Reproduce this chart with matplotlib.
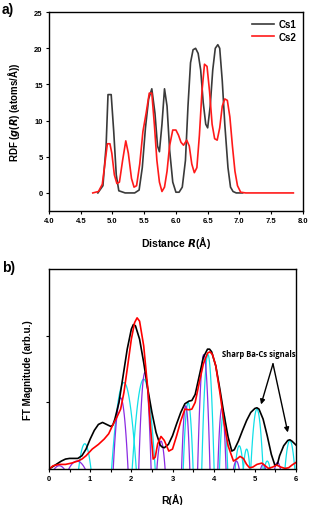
import numpy as np
import matplotlib
matplotlib.use("Agg")
import matplotlib.pyplot as plt
from matplotlib.ticker import MultipleLocator

plt.rcParams['font.family'] = ['Liberation Sans', 'DejaVu Sans']
plt.rcParams['font.weight'] = 'bold'

# ---- panel a: RDF of the two Cs sites ----
cs1_r = [4.77, 4.85, 4.9, 4.93, 4.98, 5.02, 5.06, 5.1, 5.2, 5.35, 5.42, 5.47, 5.52, 5.57, 5.62, 5.67,
         5.71, 5.74, 5.78, 5.82, 5.86, 5.9, 5.95, 6.0, 6.05, 6.1, 6.15, 6.19, 6.23, 6.27, 6.31, 6.35,
         6.39, 6.43, 6.47, 6.5, 6.54, 6.58, 6.62, 6.66, 6.69, 6.73, 6.77, 6.82, 6.86, 6.9, 6.95, 7.05]
cs1_g = [0.0, 1.0, 6.5, 13.6, 13.6, 8.5, 2.5, 0.3, 0.0, 0.0, 0.4, 3.5, 9.0, 13.0, 14.4, 11.0,
         6.5, 5.7, 9.5, 14.4, 12.0, 6.0, 1.5, 0.1, 0.1, 0.8, 4.5, 12.0, 18.0, 19.8, 20.0, 19.3,
         17.0, 12.5, 9.5, 9.0, 12.0, 17.0, 20.0, 20.5, 20.0, 15.5, 9.5, 3.5, 0.8, 0.2, 0.0, 0.0]

cs2_r = [4.69, 4.78, 4.84, 4.88, 4.92, 4.96, 4.99, 5.03, 5.07, 5.11, 5.16, 5.21, 5.25, 5.3, 5.34, 5.38,
         5.43, 5.48, 5.53, 5.58, 5.62, 5.66, 5.7, 5.74, 5.78, 5.82, 5.86, 5.9, 5.95, 6.0, 6.04, 6.08,
         6.12, 6.17, 6.21, 6.25, 6.29, 6.33, 6.37, 6.41, 6.45, 6.49, 6.53, 6.57, 6.61, 6.65, 6.69, 6.73,
         6.77, 6.81, 6.85, 6.89, 6.93, 6.97, 7.02, 7.1, 7.85]
cs2_g = [0.0, 0.2, 1.2, 4.0, 6.8, 6.8, 5.5, 2.5, 1.3, 1.5, 4.5, 7.2, 5.5, 2.0, 0.8, 1.0,
         4.0, 8.5, 11.0, 13.8, 13.8, 9.5, 4.5, 1.5, 0.2, 0.8, 3.0, 6.5, 8.7, 8.7, 8.0, 7.0,
         6.6, 7.3, 6.5, 4.0, 2.8, 3.5, 8.0, 14.0, 17.8, 17.5, 14.0, 9.5, 7.5, 7.3, 9.0, 12.0,
         13.0, 12.8, 10.5, 6.5, 3.0, 1.0, 0.1, 0.0, 0.0]

# ---- panel b: FT magnitude ----
ft_r = [0.0, 0.1, 0.2, 0.3, 0.4, 0.5, 0.6, 0.7, 0.8, 0.9, 1.0, 1.1, 1.2, 1.3, 1.4, 1.5, 1.55,
        1.6, 1.7, 1.8, 1.9, 2.0, 2.05, 2.1, 2.2, 2.3, 2.4, 2.5, 2.6, 2.7, 2.75, 2.8, 2.9, 3.0,
        3.1, 3.2, 3.3, 3.4, 3.47, 3.55, 3.65, 3.75, 3.85, 3.9, 3.95, 4.05, 4.15, 4.25, 4.35, 4.44,
        4.5, 4.6, 4.7, 4.8, 4.9, 5.0, 5.05, 5.1, 5.2, 5.3, 5.4, 5.49, 5.55, 5.6, 5.7, 5.8, 5.85,
        5.9, 6.0]
ft_black = [0.0, 0.04, 0.08, 0.12, 0.15, 0.16, 0.16, 0.16, 0.2, 0.3, 0.45, 0.58, 0.67, 0.70, 0.67, 0.64, 0.66,
            0.75, 1.0, 1.4, 1.8, 2.1, 2.17, 2.15, 1.95, 1.6, 1.2, 0.85, 0.55, 0.36, 0.33, 0.32, 0.37, 0.5,
            0.68, 0.85, 0.98, 1.02, 1.03, 1.12, 1.4, 1.68, 1.8, 1.8, 1.76, 1.55, 1.2, 0.82, 0.48, 0.27,
            0.29, 0.42, 0.58, 0.73, 0.85, 0.91, 0.92, 0.9, 0.75, 0.5, 0.22, 0.05, 0.08, 0.2, 0.35, 0.43, 0.44,
            0.42, 0.36]

ft_r2 = [0.0, 0.1, 0.25, 0.4, 0.55, 0.7, 0.8, 0.9, 1.05, 1.2, 1.34, 1.45, 1.54, 1.65, 1.74, 1.82,
         1.9, 2.0, 2.08, 2.14, 2.2, 2.3, 2.4, 2.47, 2.53, 2.58, 2.64, 2.72, 2.8, 2.91, 3.0, 3.1,
         3.2, 3.3, 3.4, 3.47, 3.55, 3.65, 3.75, 3.85, 3.91, 3.97, 4.05, 4.15, 4.25, 4.35, 4.48,
         4.56, 4.64, 4.72, 4.8, 4.87, 4.95, 5.05, 5.17, 5.25, 5.33, 5.43, 5.53, 5.63, 5.73, 5.82,
         5.9, 6.0]
ft_red = [0.0, 0.05, 0.07, 0.07, 0.09, 0.12, 0.15, 0.2, 0.3, 0.37, 0.45, 0.53, 0.65, 0.78, 0.9, 1.15,
          1.5, 1.95, 2.2, 2.27, 2.22, 1.85, 1.2, 0.6, 0.15, 0.18, 0.38, 0.49, 0.43, 0.27, 0.3, 0.5,
          0.72, 0.9, 0.89, 0.9, 1.0, 1.3, 1.58, 1.74, 1.76, 1.72, 1.55, 1.15, 0.7, 0.35, 0.12,
          0.15, 0.19, 0.16, 0.07, 0.02, 0.03, 0.07, 0.09, 0.05, 0.01, 0.03, 0.06, 0.03, 0.01, 0.02,
          0.06, 0.1]

# fitted single-shell components: centre, height, half-width
cyan_c = [0.87, 1.82, 2.30, 3.38, 3.86, 4.24, 4.62, 4.80, 5.05, 5.30, 5.85]
cyan_h = [0.38, 1.30, 1.35, 1.00, 1.72, 0.85, 0.35, 0.30, 0.90, 0.12, 0.43]
cyan_w = [0.15, 0.30, 0.28, 0.12, 0.15, 0.10, 0.10, 0.08, 0.15, 0.07, 0.12]

purple_c = [0.25, 0.68, 1.74, 2.33, 2.72, 3.32, 3.76, 4.20, 4.55, 5.20, 5.55]
purple_h = [0.05, 0.12, 1.07, 1.45, 0.42, 0.95, 1.72, 0.92, 0.12, 0.07, 0.10]
purple_w = [0.12, 0.20, 0.18, 0.15, 0.10, 0.10, 0.15, 0.10, 0.07, 0.06, 0.07]

fig = plt.figure(figsize=(3.10, 5.06), dpi=100)
ax1 = fig.add_axes([0.158, 0.581, 0.819, 0.393])
ax2 = fig.add_axes([0.158, 0.071, 0.797, 0.395])

ax1.plot(cs1_r, cs1_g, color='#3a3a3a', lw=1.2, label='Cs1')
ax1.plot(cs2_r, cs2_g, color='#ff1a1a', lw=1.2, label='Cs2')
ax1.set_xlim(4.0, 8.0)
ax1.set_ylim(-2.5, 25)
ax1.yaxis.set_major_locator(MultipleLocator(5))
ax1.set_xticks(np.arange(4.0, 8.01, 0.5))
ax1.set_xticklabels([f"{v:.1f}" for v in np.arange(4.0, 8.01, 0.5)])
ax1.set_xlabel(r'Distance $\mathbfit{R}$(Å)', fontsize=7.5, fontweight='bold')
ax1.set_ylabel(r'RDF ($\mathbfit{g}$($\mathbfit{R}$) (atoms/Å))', fontsize=7, fontweight='bold')
ax1.xaxis.set_label_coords(0.5, -0.115)
ax1.yaxis.set_label_coords(-0.105, 0.5)
ax1.legend(loc='upper right', frameon=False, fontsize=7, handlelength=2.3,
           handletextpad=0.4, labelspacing=0.3, borderaxespad=0.3)

def lobes(ax, cs, hs, ws, color):
    for c, h, w in zip(cs, hs, ws):
        xx = np.linspace(c - 1.1 * w, c + 1.1 * w, 30)
        ax.plot(xx, h * (1 - ((xx - c) / w) ** 2), color=color, lw=0.9)

lobes(ax2, cyan_c, cyan_h, cyan_w, '#10e0e8')
lobes(ax2, purple_c, purple_h, purple_w, '#8a2be2')
ax2.plot(ft_r, ft_black, color='black', lw=1.2)
ax2.plot(ft_r2, ft_red, color='#ff0000', lw=1.2)
ax2.set_xlim(0, 6)
ax2.set_ylim(0, 3)
ax2.xaxis.set_major_locator(MultipleLocator(1))
ax2.xaxis.set_minor_locator(MultipleLocator(0.5))
ax2.set_yticks([1, 2])
ax2.set_yticklabels([])
ax2.set_xlabel('R(Å)', fontsize=7.5, fontweight='bold')
ax2.set_ylabel('FT Magnitude (arb.u.)', fontsize=7, fontweight='bold')
ax2.xaxis.set_label_coords(0.5, -0.12)
ax2.yaxis.set_label_coords(-0.065, 0.5)

ax2.text(4.2, 1.74, 'Sharp Ba-Cs signals', fontsize=5.5, fontweight='bold',
         family=['Open Sans', 'DejaVu Sans'], va='center', ha='left')
for tx, ty in [(5.15, 0.97), (5.8, 0.55)]:
    ax2.annotate('', xy=(tx, ty), xytext=(5.44, 1.58),
                 arrowprops=dict(arrowstyle='-|>', color='black', lw=1.0,
                                 mutation_scale=7, shrinkA=0, shrinkB=0))

for ax in (ax1, ax2):
    ax.tick_params(direction='out', labelsize=5.5, length=2.5, width=0.8, pad=2)
    ax.tick_params(which='minor', direction='out', length=2.5, width=0.8)
    for s in ax.spines.values():
        s.set_linewidth(1.0)
    for lab in ax.get_xticklabels() + ax.get_yticklabels():
        lab.set_fontweight('bold')

fig.text(0.005, 0.98, 'a)', fontsize=10, fontweight='bold', va='center', ha='left')
fig.text(0.005, 0.47, 'b)', fontsize=10, fontweight='bold', va='center', ha='left')

fig.savefig('out.png', dpi=100)
